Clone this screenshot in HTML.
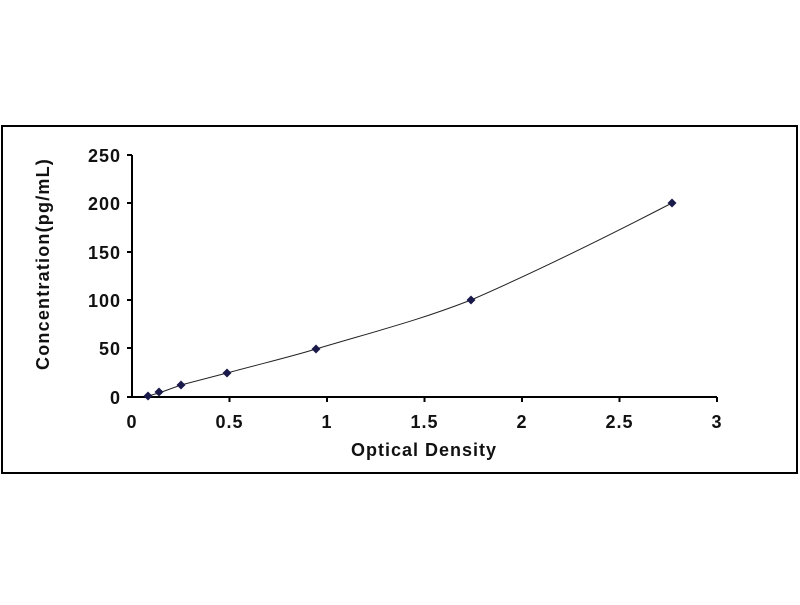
<!DOCTYPE html>
<html><head><style>body{margin:0;background:#fff}svg text{font-family:"Liberation Sans",Arial,sans-serif;font-weight:bold;fill:#111}</style></head>
<body>
<svg width="800" height="600" xmlns="http://www.w3.org/2000/svg">
<rect x="2" y="126" width="795" height="347" fill="#fff" stroke="#000" stroke-width="2"/>
<g stroke="#000" stroke-width="2" fill="none">
<line x1="132" y1="155" x2="132" y2="397"/>
<line x1="132" y1="397" x2="717" y2="397"/>
<line x1="127" y1="155" x2="132" y2="155"/>
<line x1="127" y1="203" x2="132" y2="203"/>
<line x1="127" y1="252" x2="132" y2="252"/>
<line x1="127" y1="300" x2="132" y2="300"/>
<line x1="127" y1="348" x2="132" y2="348"/>
<line x1="127" y1="397" x2="132" y2="397"/>
<line x1="229.5" y1="397" x2="229.5" y2="402"/>
<line x1="327" y1="397" x2="327" y2="402"/>
<line x1="424.5" y1="397" x2="424.5" y2="402"/>
<line x1="522" y1="397" x2="522" y2="402"/>
<line x1="619.5" y1="397" x2="619.5" y2="402"/>
<line x1="717" y1="397" x2="717" y2="402"/>
</g>
<path d="M148,396 L159,393 L181,385 L227,373 C260,364 290,357 316,349 C380,330 420,320 471,300 C540,270 610,235 672,203" fill="none" stroke="#222" stroke-width="1"/>
<g fill="#1a1a4a">
<path d="M148,391.5 l4.5,4.5 -4.5,4.5 -4.5,-4.5z"/>
<path d="M159,387.5 l4.5,4.5 -4.5,4.5 -4.5,-4.5z"/>
<path d="M181,380.5 l4.5,4.5 -4.5,4.5 -4.5,-4.5z"/>
<path d="M227,368.5 l4.5,4.5 -4.5,4.5 -4.5,-4.5z"/>
<path d="M316,344.5 l4.5,4.5 -4.5,4.5 -4.5,-4.5z"/>
<path d="M471,295.5 l4.5,4.5 -4.5,4.5 -4.5,-4.5z"/>
<path d="M672,198.5 l4.5,4.5 -4.5,4.5 -4.5,-4.5z"/>
</g>
<g font-size="18" text-anchor="end" letter-spacing="1">
<text x="121" y="162">250</text>
<text x="121" y="210">200</text>
<text x="121" y="259">150</text>
<text x="121" y="307">100</text>
<text x="121" y="355">50</text>
<text x="121" y="404">0</text>
</g>
<g font-size="18" text-anchor="middle" letter-spacing="1">
<text x="132" y="428">0</text>
<text x="229.5" y="428">0.5</text>
<text x="327" y="428">1</text>
<text x="424.5" y="428">1.5</text>
<text x="522" y="428">2</text>
<text x="619.5" y="428">2.5</text>
<text x="717" y="428">3</text>
</g>
<text x="424" y="456" font-size="18" text-anchor="middle" letter-spacing="1">Optical Density</text>
<text transform="translate(49,264) rotate(-90)" font-size="18" text-anchor="middle" letter-spacing="1.2">Concentration(pg/mL)</text>
</svg>
</body></html>
